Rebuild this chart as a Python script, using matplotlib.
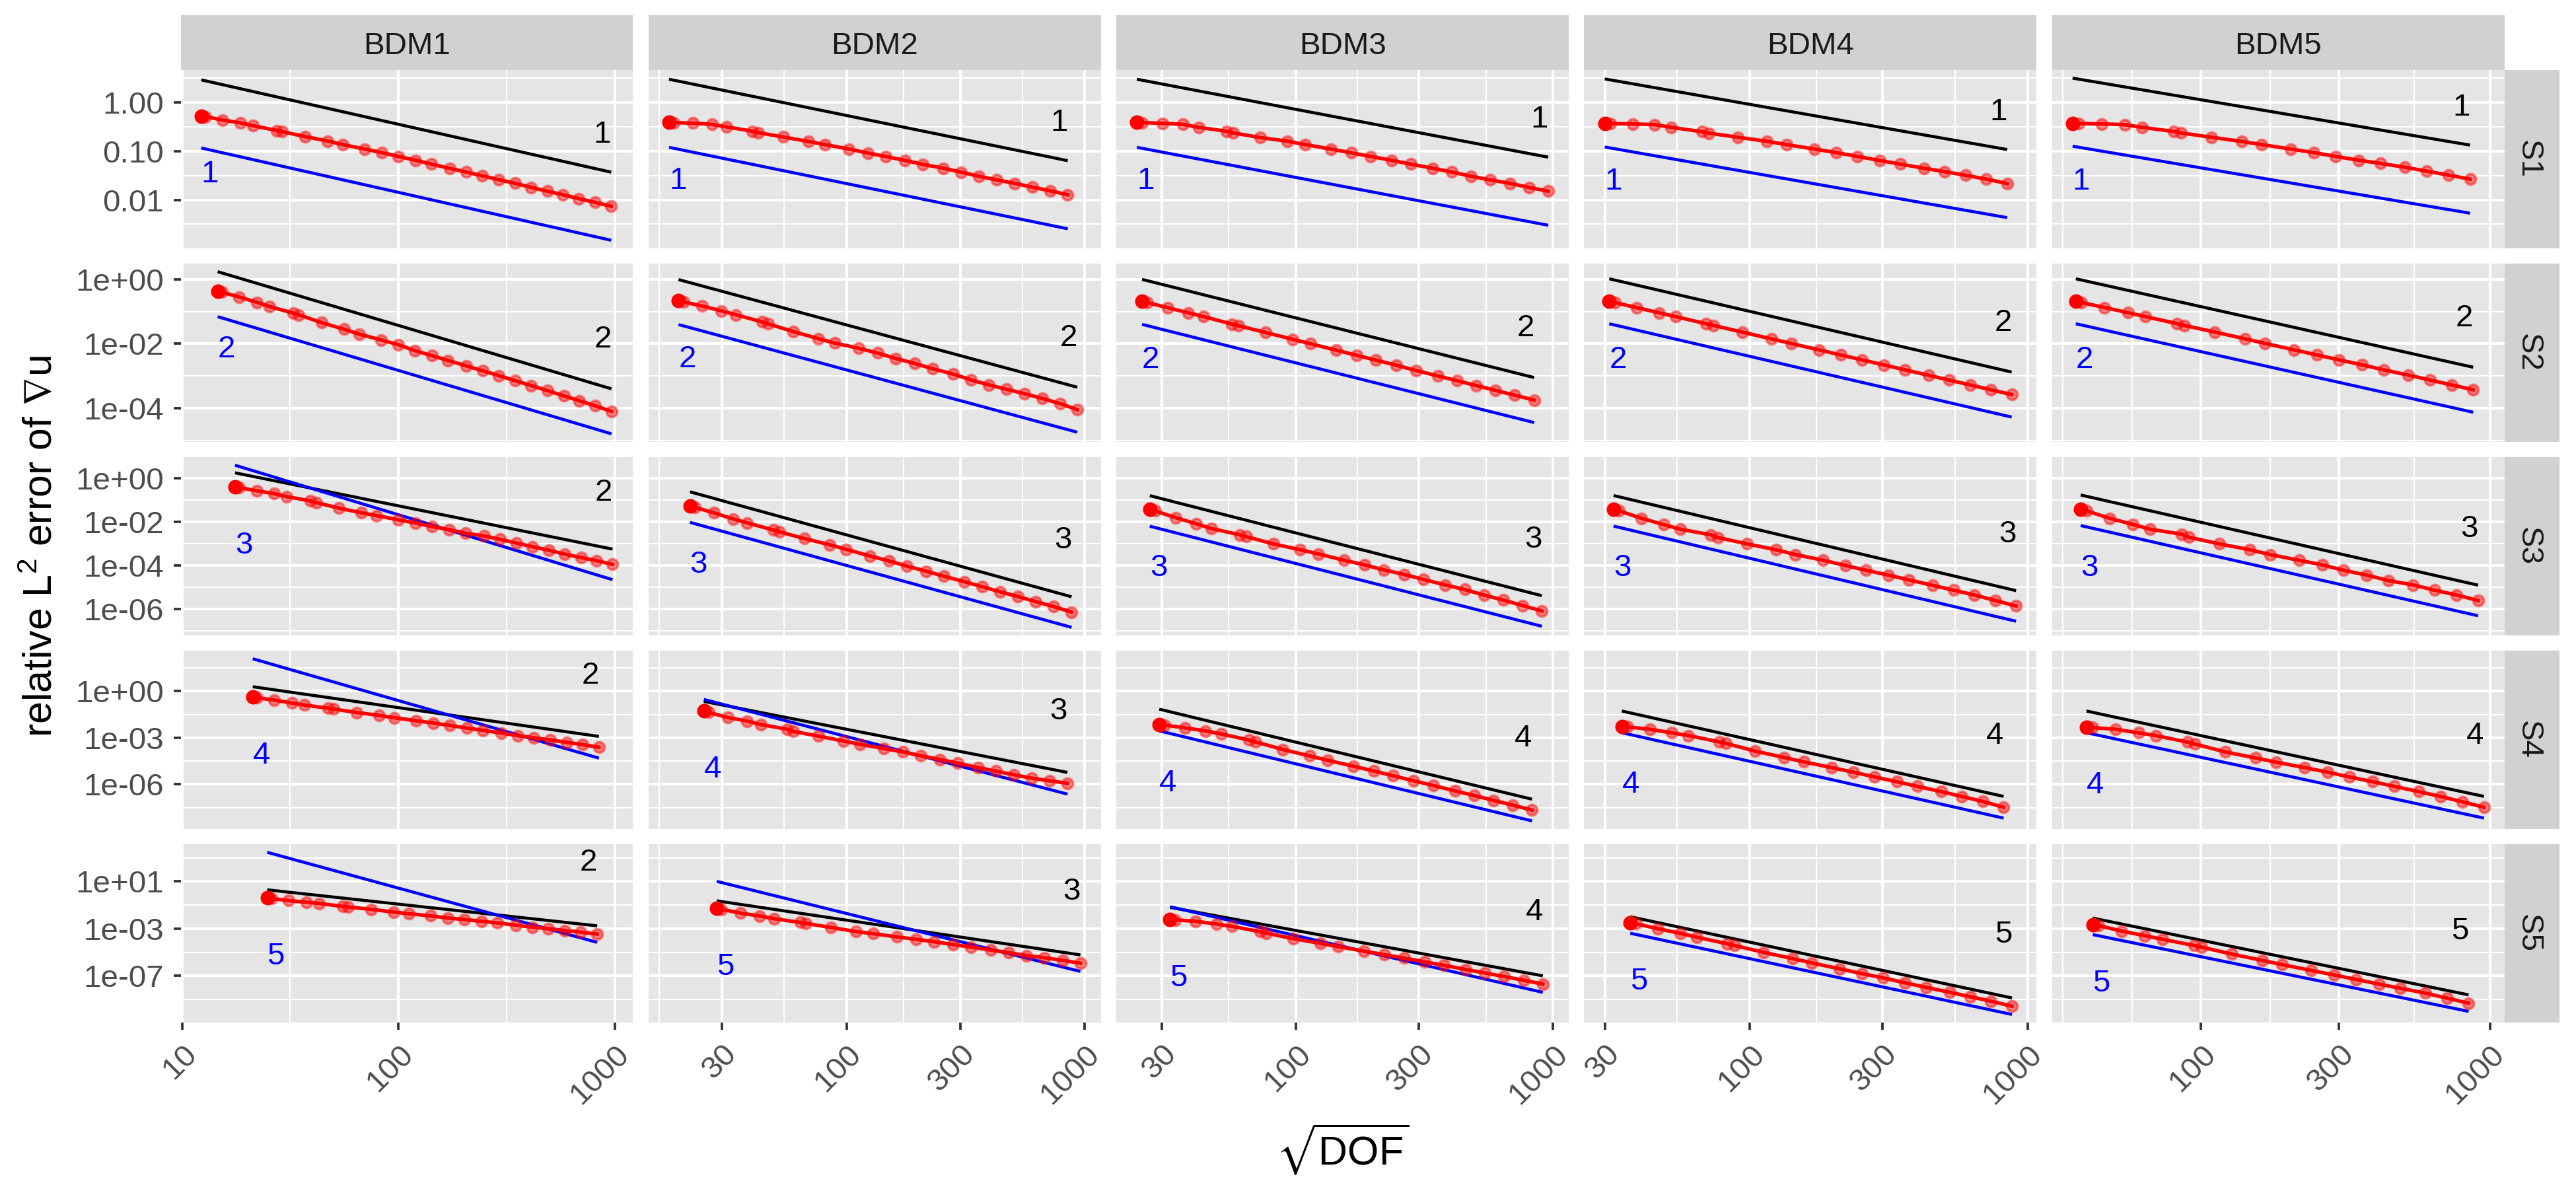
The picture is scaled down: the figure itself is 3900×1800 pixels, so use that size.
import numpy as np
import matplotlib
matplotlib.use("Agg")
import matplotlib.pyplot as plt
import matplotlib.transforms as mtransforms
from matplotlib.ticker import NullFormatter

plt.rcParams['font.family'] = ['Liberation Sans', 'DejaVu Sans']
plt.rcParams['mathtext.fontset'] = 'custom'
plt.rcParams['mathtext.rm'] = 'Liberation Sans'
plt.rcParams['mathtext.it'] = 'Liberation Sans:italic'
plt.rcParams['mathtext.bf'] = 'Liberation Sans:bold'
plt.rcParams['mathtext.sf'] = 'Liberation Sans'
plt.rcParams['mathtext.fallback'] = 'stixsans'

# ---------------- data ----------------
methods = ["BDM1", "BDM2", "BDM3", "BDM4", "BDM5"]
solutions = ["S1", "S2", "S3", "S4", "S5"]

# sqrt(DOF) of each refinement level relative to the coarsest level
mesh_ratio = [1.000, 1.047, 1.259, 1.514, 1.738, 2.239, 2.371, 3.020, 3.846, 4.519,
              5.689, 6.839, 8.128, 9.772, 11.61, 14.13, 16.79, 19.95, 23.71, 28.18,
              33.50, 39.81, 46.99, 55.59, 66.07, 78.52]

# sqrt(DOF) of the coarsest mesh, per method, for S1..S5
sqrt_dof_first_BDM1 = [12.27, 14.62, 17.58, 21.23, 24.77]
sqrt_dof_first_BDM2 = [18.03, 19.77, 22.08, 25.23, 28.58]
sqrt_dof_first_BDM3 = [24.04, 25.18, 26.98, 29.38, 32.36]
sqrt_dof_first_BDM4 = [29.99, 31.12, 32.28, 34.59, 37.07]
sqrt_dof_first_BDM5 = [35.97, 36.90, 38.37, 40.18, 42.27]

# log10 of the relative L2 error of grad u
log10_err_S1_BDM1 = [-0.277, -0.29, -0.362, -0.417, -0.477, -0.575, -0.60, -0.70, -0.792, -0.865,
                     -0.955, -1.03, -1.107, -1.186, -1.265, -1.355, -1.428, -1.507, -1.585, -1.658,
                     -1.743, -1.822, -1.894, -1.973, -2.05, -2.13]
log10_err_S1_BDM2 = [-0.411, -0.412, -0.425, -0.45, -0.50, -0.59, -0.62, -0.71, -0.80, -0.865,
                     -0.956, -1.04, -1.11, -1.19, -1.27, -1.35, -1.43, -1.515, -1.59, -1.66,
                     -1.74, -1.815, -1.894]
log10_err_S1_BDM3 = [-0.411, -0.412, -0.427, -0.45, -0.51, -0.593, -0.625, -0.72, -0.795, -0.865,
                     -0.956, -1.035, -1.108, -1.187, -1.265, -1.35, -1.428, -1.515, -1.59, -1.66,
                     -1.743, -1.822]
log10_err_S1_BDM4 = [-0.429, -0.43, -0.441, -0.455, -0.51, -0.60, -0.63, -0.714, -0.798, -0.865,
                     -0.956, -1.03, -1.107, -1.19, -1.265, -1.35, -1.42, -1.495, -1.574, -1.665]
log10_err_S1_BDM5 = [-0.429, -0.43, -0.441, -0.455, -0.51, -0.595, -0.625, -0.714, -0.80, -0.865,
                     -0.956, -1.03, -1.107, -1.186, -1.25, -1.33, -1.41, -1.49, -1.574]

log10_err_S2_BDM1 = [-0.361, -0.40, -0.55, -0.71, -0.845, -1.05, -1.10, -1.345, -1.55, -1.705,
                     -1.88, -2.03, -2.21, -2.37, -2.52, -2.69, -2.84, -2.99, -3.15, -3.30,
                     -3.46, -3.62, -3.77, -3.93, -4.10]
log10_err_S2_BDM2 = [-0.663, -0.70, -0.83, -0.98, -1.10, -1.32, -1.38, -1.62, -1.84, -1.98,
                     -2.14, -2.29, -2.457, -2.612, -2.776, -2.94, -3.12, -3.277, -3.414, -3.55,
                     -3.70, -3.86, -4.05]
log10_err_S2_BDM3 = [-0.681, -0.72, -0.88, -1.04, -1.16, -1.39, -1.44, -1.65, -1.86, -2.0,
                     -2.2, -2.36, -2.51, -2.67, -2.83, -3.0, -3.15, -3.30, -3.45, -3.60, -3.75]
log10_err_S2_BDM4 = [-0.681, -0.72, -0.88, -1.04, -1.16, -1.38, -1.43, -1.64, -1.85, -1.99,
                     -2.19, -2.35, -2.50, -2.66, -2.81, -2.98, -3.13, -3.28, -3.43, -3.58]
log10_err_S2_BDM5 = [-0.681, -0.72, -0.875, -1.035, -1.155, -1.375, -1.43, -1.635, -1.845, -1.99,
                     -2.19, -2.35, -2.50, -2.655, -2.81, -2.975, -3.125, -3.28, -3.43]

log10_err_S3_BDM1 = [-0.40, -0.44, -0.58, -0.714, -0.85, -1.05, -1.12, -1.375, -1.59, -1.72,
                     -1.91, -2.06, -2.22, -2.36, -2.52, -2.65, -2.80, -2.97, -3.14, -3.30,
                     -3.48, -3.64, -3.78, -3.95]
log10_err_S3_BDM2 = [-1.28, -1.34, -1.59, -1.87, -2.05, -2.38, -2.46, -2.77, -3.05, -3.26,
                     -3.57, -3.79, -4.03, -4.26, -4.49, -4.74, -4.97, -5.20, -5.42, -5.65,
                     -5.88, -6.13]
log10_err_S3_BDM3 = [-1.432, -1.50, -1.81, -2.09, -2.31, -2.595, -2.68, -3.01, -3.28, -3.47,
                     -3.76, -3.97, -4.20, -4.41, -4.64, -4.89, -5.10, -5.35, -5.58, -5.83, -6.08]
log10_err_S3_BDM4 = [-1.432, -1.50, -1.84, -2.13, -2.34, -2.595, -2.72, -3.01, -3.28, -3.50,
                     -3.76, -4.0, -4.22, -4.44, -4.66, -4.91, -5.13, -5.35, -5.60, -5.85]
log10_err_S3_BDM5 = [-1.432, -1.50, -1.84, -2.12, -2.34, -2.57, -2.71, -3.01, -3.28, -3.50,
                     -3.76, -3.97, -4.22, -4.44, -4.69, -4.89, -5.13, -5.35, -5.60]

log10_err_S4_BDM1 = [-0.381, -0.42, -0.571, -0.761, -0.894, -1.10, -1.15, -1.37, -1.56, -1.71,
                     -1.90, -2.05, -2.20, -2.375, -2.52, -2.70, -2.86, -3.00, -3.14, -3.29,
                     -3.44, -3.61]
log10_err_S4_BDM2 = [-1.253, -1.36, -1.695, -1.92, -2.15, -2.45, -2.59, -2.89, -3.21, -3.42,
                     -3.69, -3.91, -4.16, -4.39, -4.63, -4.92, -5.15, -5.38, -5.60, -5.77, -5.93]
log10_err_S4_BDM3 = [-2.149, -2.18, -2.36, -2.56, -2.75, -3.15, -3.27, -3.75, -4.17, -4.45,
                     -4.83, -5.14, -5.45, -5.77, -6.07, -6.42, -6.72, -7.03, -7.34, -7.655]
log10_err_S4_BDM4 = [-2.27, -2.30, -2.45, -2.68, -2.86, -3.26, -3.36, -3.86, -4.27, -4.55,
                     -4.92, -5.22, -5.52, -5.83, -6.13, -6.47, -6.78, -7.10, -7.475]
log10_err_S4_BDM5 = [-2.31, -2.34, -2.45, -2.68, -2.86, -3.28, -3.40, -3.91, -4.30, -4.57,
                     -4.92, -5.22, -5.52, -5.83, -6.13, -6.47, -6.78, -7.12, -7.475]

log10_err_S5_BDM1 = [-0.40, -0.44, -0.62, -0.75, -0.86, -1.11, -1.16, -1.36, -1.59, -1.73,
                     -1.91, -2.09, -2.22, -2.37, -2.51, -2.70, -2.87, -3.0, -3.15, -3.29, -3.455]
log10_err_S5_BDM2 = [-1.287, -1.36, -1.68, -1.92, -2.15, -2.47, -2.55, -2.90, -3.24, -3.42,
                     -3.69, -3.89, -4.10, -4.34, -4.55, -4.81, -5.03, -5.27, -5.46, -5.68, -5.916]
log10_err_S5_BDM3 = [-2.21, -2.25, -2.37, -2.60, -2.80, -3.25, -3.37, -3.85, -4.24, -4.52,
                     -4.90, -5.20, -5.49, -5.80, -6.10, -6.45, -6.75, -7.05, -7.36, -7.69]
log10_err_S5_BDM4 = [-2.505, -2.58, -3.0, -3.39, -3.72, -4.28, -4.42, -5.0, -5.53, -5.90,
                     -6.40, -6.80, -7.16, -7.58, -7.96, -8.38, -8.76, -9.14, -9.56]
log10_err_S5_BDM5 = [-2.66, -2.74, -3.20, -3.59, -3.89, -4.42, -4.56, -5.14, -5.68, -6.04,
                     -6.53, -6.92, -7.29, -7.69, -8.05, -8.45, -8.88, -9.30]

# expected convergence rates (black reference) per method, and blue reference per solution
rate_black_S1 = [1, 1, 1, 1, 1]
rate_black_S2 = [2, 2, 2, 2, 2]
rate_black_S3 = [2, 3, 3, 3, 3]
rate_black_S4 = [2, 3, 4, 4, 4]
rate_black_S5 = [2, 3, 4, 5, 5]
rate_blue = [1, 2, 3, 4, 5]

# axis breaks / labels
x_breaks_BDM1 = [10, 100, 1000]
x_breaks_other = [30, 100, 300, 1000]
y_breaks_S1 = [1.0, 0.1, 0.01]
y_labels_S1 = ["1.00", "0.10", "0.01"]
y_breaks_S2 = [1.0, 1e-2, 1e-4]
y_labels_S2 = ["1e+00", "1e-02", "1e-04"]
y_breaks_S3 = [1.0, 1e-2, 1e-4, 1e-6]
y_labels_S3 = ["1e+00", "1e-02", "1e-04", "1e-06"]
y_breaks_S4 = [1.0, 1e-3, 1e-6]
y_labels_S4 = ["1e+00", "1e-03", "1e-06"]
y_breaks_S5 = [10.0, 1e-3, 1e-7]
y_labels_S5 = ["1e+01", "1e-03", "1e-07"]

# ---------------- assemble lookups ----------------
first_sqrt_dof = {"BDM1": sqrt_dof_first_BDM1, "BDM2": sqrt_dof_first_BDM2,
                  "BDM3": sqrt_dof_first_BDM3, "BDM4": sqrt_dof_first_BDM4,
                  "BDM5": sqrt_dof_first_BDM5}
log_err = {}
for s in solutions:
    for m in methods:
        log_err[(s, m)] = globals()["log10_err_%s_%s" % (s, m)]
rate_black = {"S1": rate_black_S1, "S2": rate_black_S2, "S3": rate_black_S3,
              "S4": rate_black_S4, "S5": rate_black_S5}
y_breaks = {"S1": (y_breaks_S1, y_labels_S1), "S2": (y_breaks_S2, y_labels_S2),
            "S3": (y_breaks_S3, y_labels_S3), "S4": (y_breaks_S4, y_labels_S4),
            "S5": (y_breaks_S5, y_labels_S5)}

# ---------------- style ----------------
PANEL_BG = "#E5E5E5"
STRIP_BG = "#D1D1D1"
TICK_COL = "#333333"
TICKLAB_COL = "#4D4D4D"
STRIP_TXT = "#1A1A1A"
FS_TICK = 11.4
FS_STRIP = 11.4
FS_TITLE = 14.6
FS_RATE = 11.4

W, H = 3900.0, 1800.0
fig = plt.figure(figsize=(13, 6), dpi=300)
fig.patch.set_facecolor("white")

col_left = [273.5 + 708.3 * i for i in range(5)]
col_w = 685.0
row_top = [106.0 + 293.0 * j for j in range(5)]
row_h = 270.0
strip_sz = 83.0

# ---------------- compute panel series ----------------
panels = {}
for j, s in enumerate(solutions):
    for i, m in enumerate(methods):
        lg = np.array(log_err[(s, m)])
        n = len(lg)
        x = first_sqrt_dof[m][j] * np.array(mesh_ratio[:n])
        y = 10.0 ** lg
        rb = rate_black[s][i]
        ru = rate_blue[j]
        xl = np.array([x[0], x[-1]])
        yb = 5.0 * y[-1] * (xl / x[-1]) ** (-rb)
        yu = 0.2 * y[-1] * (xl / x[-1]) ** (-ru)
        panels[(j, i)] = (x, y, xl, yb, yu, rb, ru)


def expand(vals):
    lo, hi = np.log10(np.min(vals)), np.log10(np.max(vals))
    d = (hi - lo) * 0.05
    return lo - d, hi + d


xlims = [expand(np.concatenate([panels[(j, i)][0] for j in range(5)])) for i in range(5)]
ylims = [expand(np.concatenate([np.concatenate([panels[(j, i)][1], panels[(j, i)][3],
                                                panels[(j, i)][4]]) for i in range(5)]))
         for j in range(5)]


def gg_minor(breaks_log, lo, hi):
    maj = sorted(breaks_log)
    b = list(maj)
    bd = b[1] - b[0]
    if lo < b[0]:
        b = [b[0] - bd] + b
    if hi > b[-1]:
        b = b + [b[-1] + bd]
    out = []
    for a, c in zip(b[:-1], b[1:]):
        out += [a, 0.5 * (a + c)]
    out.append(b[-1])
    return [v for v in out if lo <= v <= hi and min(abs(v - q) for q in maj) > 1e-6]


# ---------------- draw panels ----------------
for j, s in enumerate(solutions):
    for i, m in enumerate(methods):
        x, y, xl, yb, yu, rb, ru = panels[(j, i)]
        L = col_left[i]
        T = row_top[j]
        ax = fig.add_axes([L / W, 1 - (T + row_h) / H, col_w / W, row_h / H])
        ax.set_facecolor(PANEL_BG)
        ax.set_xscale("log")
        ax.set_yscale("log")
        for sp in ax.spines.values():
            sp.set_visible(False)

        ax.plot(xl, yb, color="black", lw=1.1, zorder=2, solid_capstyle="butt")
        ax.plot(xl, yu, color="blue", lw=1.1, zorder=2, solid_capstyle="butt")
        ax.plot(x, y, color="red", lw=1.3, zorder=3)
        ax.scatter(x, y, s=15, facecolor=(1, 0, 0, 0.45), edgecolor=(1, 0, 0, 0.45),
                   linewidths=0.9, zorder=4)
        ax.scatter(x[:1], y[:1], s=28, color="red", linewidths=0, zorder=5)

        xlo, xhi = xlims[i]
        ylo, yhi = ylims[j]
        ax.set_xlim(10 ** xlo, 10 ** xhi)
        ax.set_ylim(10 ** ylo, 10 ** yhi)

        # x breaks
        xb_all = x_breaks_BDM1 if m == "BDM1" else x_breaks_other
        xb = [b for b in xb_all if xlo <= np.log10(b) <= xhi]
        xminor = gg_minor([np.log10(b) for b in xb], xlo, xhi)
        ax.set_xticks(xb)
        ax.set_xticks([10 ** v for v in xminor], minor=True)
        # y breaks
        yb_vals, yb_labs = y_breaks[s]
        ymin_ = gg_minor([np.log10(b) for b in yb_vals], ylo, yhi)
        ax.set_yticks(yb_vals)
        ax.set_yticks([10 ** v for v in ymin_], minor=True)
        ax.xaxis.set_minor_formatter(NullFormatter())
        ax.yaxis.set_minor_formatter(NullFormatter())

        ax.set_axisbelow(True)
        ax.grid(True, which="major", color="white", linewidth=0.95)
        ax.grid(True, which="minor", color="white", linewidth=0.5)
        ax.tick_params(which="minor", length=0)

        if j == 4:
            ax.set_xticklabels([str(b) for b in xb], rotation=45, ha="right", va="top",
                               rotation_mode="anchor")
            ax.tick_params(axis="x", which="major", length=2.64, width=0.9, color=TICK_COL,
                           labelsize=FS_TICK, labelcolor=TICKLAB_COL, pad=3.5)
        else:
            ax.tick_params(axis="x", which="major", length=0, labelbottom=False)
        if i == 0:
            ax.set_yticklabels(yb_labs)
            ax.tick_params(axis="y", which="major", length=2.64, width=0.9, color=TICK_COL,
                           labelsize=FS_TICK, labelcolor=TICKLAB_COL, pad=3.5)
        else:
            ax.tick_params(axis="y", which="major", length=0, labelleft=False)

        # rate labels
        trans = mtransforms.blended_transform_factory(ax.transData, ax.transAxes)
        f_last = (np.log10(y[-1]) - ylo) / (yhi - ylo)
        f_first = (np.log10(y[0]) - ylo) / (yhi - ylo)
        ax.text(x[-1], f_last + 0.357, str(rb), transform=trans, ha="right",
                va="baseline", fontsize=FS_RATE, color="black", zorder=6)
        ax.text(x[0], f_first - 0.373, str(ru), transform=trans, ha="left",
                va="baseline", fontsize=FS_RATE, color="blue", zorder=6)

# ---------------- strips ----------------
top_strip_top = row_top[0] - strip_sz
for i, m in enumerate(methods):
    sax = fig.add_axes([col_left[i] / W, 1 - row_top[0] / H, col_w / W, strip_sz / H])
    sax.set_facecolor(STRIP_BG)
    sax.set_xticks([])
    sax.set_yticks([])
    for sp in sax.spines.values():
        sp.set_visible(False)
    fig.text((col_left[i] + col_w / 2) / W, 1 - (top_strip_top + strip_sz / 2 + 17.3) / H, m,
             ha="center", va="baseline", fontsize=FS_STRIP, color=STRIP_TXT)

right_x = col_left[4] + col_w
for j, s in enumerate(solutions):
    sax = fig.add_axes([right_x / W, 1 - (row_top[j] + row_h) / H, strip_sz / W, row_h / H])
    sax.set_facecolor(STRIP_BG)
    sax.set_xticks([])
    sax.set_yticks([])
    for sp in sax.spines.values():
        sp.set_visible(False)
    fig.text((right_x + strip_sz / 2 - 17.3) / W, 1 - (row_top[j] + row_h / 2) / H, s,
             rotation=-90, rotation_mode="anchor", ha="center", va="baseline",
             fontsize=FS_STRIP, color=STRIP_TXT)

# ---------------- axis titles ----------------
panels_mid_y = (row_top[0] + row_top[4] + row_h) / 2
fig.text(78 / W, 1 - panels_mid_y / H, r"relative $\mathrm{L}^{2}$ error of $\nabla$u",
         rotation=90, rotation_mode="anchor", ha="center", va="baseline",
         fontsize=FS_TITLE, color="black")
panels_mid_x = (col_left[0] + col_left[4] + col_w) / 2
fig.text(panels_mid_x / W, 1 - 1764 / H, r"$\sqrt{\mathrm{DOF}}$", ha="center",
         va="baseline", fontsize=FS_TITLE, color="black")

fig.savefig("out.png", dpi=300, facecolor="white")
